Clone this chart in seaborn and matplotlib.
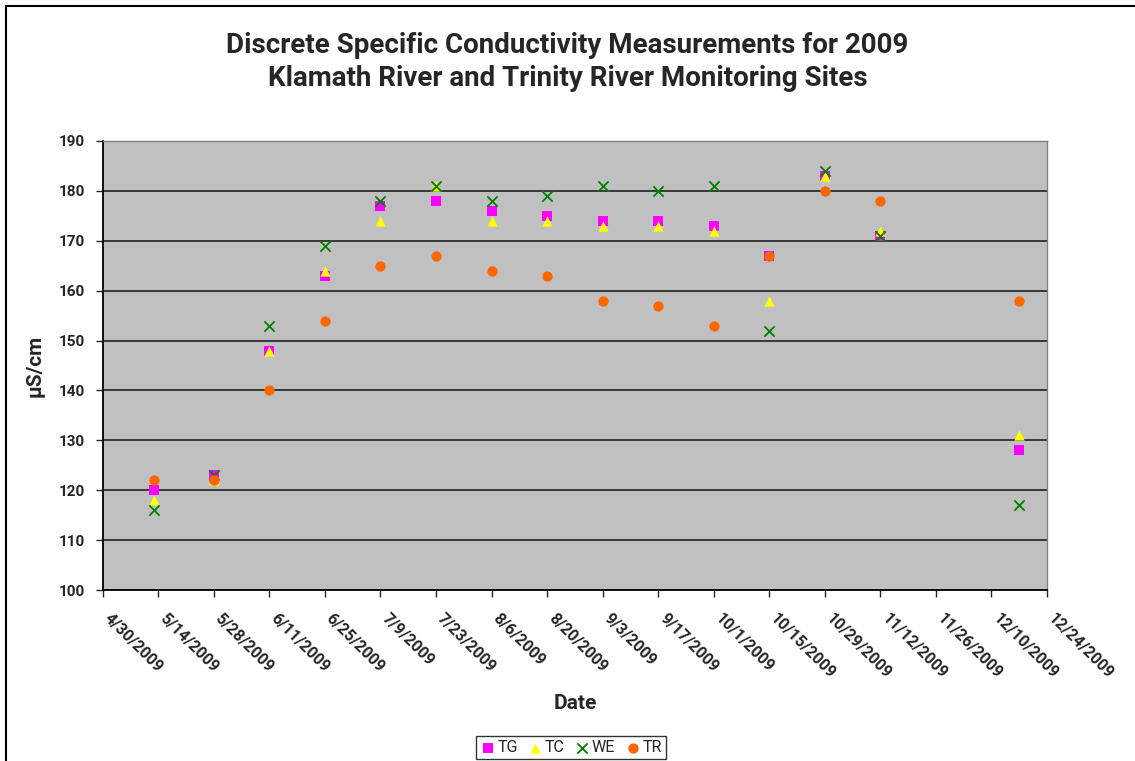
import pandas as pd
import matplotlib
matplotlib.use("Agg")
import matplotlib.pyplot as plt
import matplotlib.transforms as mtransforms
from matplotlib.patches import Rectangle
import seaborn as sns

# Sampling dates and measurements (uS/cm)
dates = ["2009-05-13", "2009-05-28", "2009-06-11", "2009-06-25", "2009-07-09",
         "2009-07-23", "2009-08-06", "2009-08-20", "2009-09-03", "2009-09-17",
         "2009-10-01", "2009-10-15", "2009-10-29", "2009-11-12", "2009-12-17"]
tg = [120, 123, 148, 163, 177, 178, 176, 175, 174, 174, 173, 167, 183, 171, 128]
tc = [118, 122, 148, 164, 174, 181, 174, 174, 173, 173, 172, 158, 183, 172, 131]
we = [116, 123, 153, 169, 178, 181, 178, 179, 181, 180, 181, 152, 184, 171, 117]
tr = [122, 122, 140, 154, 165, 167, 164, 163, 158, 157, 153, 167, 180, 178, 158]

sites = ["TG", "TC", "WE", "TR"]
colors = {"TG": "#FF00FF", "TC": "#FFFF00", "WE": "#008000", "TR": "#FF6600"}
markers = {"TG": "s", "TC": "^", "WE": "x", "TR": "o"}

tick_start = "2009-04-30"
tick_end = "2009-12-24"

frames = []
for name, vals in zip(sites, [tg, tc, we, tr]):
    frames.append(pd.DataFrame({"Date": pd.to_datetime(dates), "value": vals, "site": name}))
df = pd.concat(frames, ignore_index=True)

sns.set_style("white")
plt.rcParams["font.family"] = ["Roboto", "DejaVu Sans"]

fig = plt.figure(figsize=(11.35, 7.61), dpi=100)
ax = fig.add_axes([0.0905, 0.2247, 0.832, 0.5901])
ax.set_facecolor("#C0C0C0")

for name in sites:
    sub = df[df["site"] == name]
    kw = dict(s=55, linewidth=0) if markers[name] != "x" else dict(s=55, linewidth=1.3)
    sns.scatterplot(data=sub, x="Date", y="value", color=colors[name],
                    marker=markers[name], ax=ax, label=name, zorder=3, **kw)

# axes
ax.set_ylim(100, 190)
ax.set_yticks(range(100, 191, 10))
ax.yaxis.grid(True, color="#222222", linewidth=1.2)
ax.set_axisbelow(True)

ax.tick_params(axis="x", direction="out", length=5, width=1, pad=10, bottom=True)
ax.tick_params(axis="y", direction="out", length=5, width=1, pad=8, left=True)

ticks = pd.date_range(tick_start, tick_end, freq="14D")
ax.set_xlim(ticks[0], ticks[-1])
ax.set_xticks(ticks)
ax.set_xticklabels([f"{d.month}/{d.day}/{d.year}" for d in ticks],
                   rotation=-45, ha="left", va="top", rotation_mode="anchor",
                   fontsize=11.5, fontweight="bold")
shift = mtransforms.ScaledTranslation(9 / 100, 0, fig.dpi_scale_trans)
for lab in ax.get_xticklabels():
    lab.set_transform(lab.get_transform() + shift)
for lab in ax.get_yticklabels():
    lab.set_fontweight("bold")
    lab.set_fontsize(11)

for side in ["left", "bottom"]:
    ax.spines[side].set_color("black")
    ax.spines[side].set_linewidth(1.3)
for side in ["top", "right"]:
    ax.spines[side].set_color("#808080")
    ax.spines[side].set_linewidth(1)

ax.set_xlabel("Date", fontsize=15, fontweight="bold", labelpad=9)
ax.set_ylabel("µS/cm", fontsize=15, fontweight="bold", labelpad=10)

fig.suptitle("Discrete Specific Conductivity Measurements for 2009\n"
             "Klamath River and Trinity River Monitoring Sites",
             fontsize=20, fontweight="bold", y=0.958, linespacing=1.3)

ax.get_legend().remove()
handles, labels = ax.get_legend_handles_labels()
leg = fig.legend(handles, labels, loc="lower center", bbox_to_anchor=(0.503, 0.003),
                 ncol=4, frameon=True, fancybox=False, fontsize=11.5,
                 handletextpad=0.1, columnspacing=0.6, borderpad=0.25,
                 handlelength=1.0, borderaxespad=0)
leg.get_frame().set_edgecolor("black")
leg.get_frame().set_linewidth(1)

# outer chart border
fig.patches.append(Rectangle((6 / 1135, -0.05), 1.2, 1 - 6 / 761 + 0.05,
                             transform=fig.transFigure, fill=False,
                             edgecolor="black", linewidth=1.5))

fig.savefig("out.png", dpi=100, facecolor="white")
